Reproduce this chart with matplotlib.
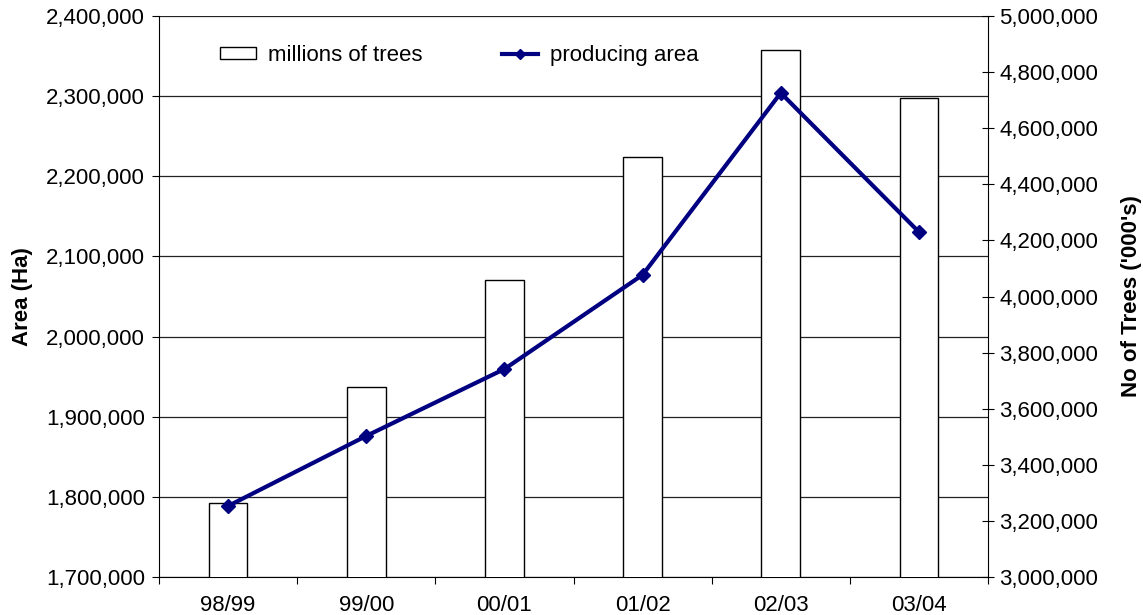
import matplotlib
matplotlib.use("Agg")
import matplotlib.pyplot as plt
from matplotlib.ticker import FuncFormatter, MultipleLocator, FixedLocator
from matplotlib.lines import Line2D
from matplotlib.patches import Patch

plt.rcParams['font.family'] = ['Liberation Sans', 'DejaVu Sans']

categories = ["98/99", "99/00", "00/01", "01/02", "02/03", "03/04"]
producing_area = [1788600, 1876000, 1959500, 2077000, 2304000, 2130500]
trees = [3264000, 3677000, 4059000, 4497000, 4879000, 4708000]

W, H = 1143, 615
FS = 16
fig = plt.figure(figsize=(W/100, H/100), dpi=100)
fig.subplots_adjust(left=159/W, right=988/W, top=1-16/H, bottom=1-577/H)

ax = fig.add_subplot(111)
x = list(range(len(categories)))
fmt = FuncFormatter(lambda v, p: f"{int(v):,}")

# left axis (area) with grid
ax.set_xlim(-0.5, len(categories) - 0.5)
ax.set_ylim(1700000, 2400000)
ax.yaxis.set_major_locator(MultipleLocator(100000))
ax.yaxis.set_major_formatter(fmt)
ax.grid(axis='y', color='#222222', linewidth=0.9)
ax.set_axisbelow(True)
ax.set_xticks(x)
ax.set_xticklabels(categories)
ax.xaxis.set_minor_locator(FixedLocator([i - 0.5 for i in range(len(categories) + 1)]))
ax.tick_params(axis='x', which='major', length=0, labelsize=FS, pad=13)
ax.tick_params(axis='x', which='minor', length=5, direction='out', width=0.8)
ax.tick_params(axis='y', length=5, direction='out', labelsize=FS, width=0.8, pad=5)
ax.set_ylabel("Area (Ha)", fontsize=FS, fontweight='bold')
ax.yaxis.set_label_coords(-0.152, 0.5)
for s in ['top', 'right']:
    ax.spines[s].set_visible(False)

# right axis (trees) bars
ax2 = ax.twinx()
ax2.set_ylim(3000000, 5000000)
ax2.bar(x, trees, width=0.28, color='white', edgecolor='black', linewidth=1.0, zorder=2)
ax2.yaxis.set_major_locator(MultipleLocator(200000))
ax2.yaxis.set_major_formatter(fmt)
ax2.tick_params(axis='y', length=8, direction='inout', labelsize=FS, width=0.8, pad=4)
ax2.set_ylabel("No of Trees ('000's)", fontsize=FS, fontweight='bold')
ax2.yaxis.set_label_coords(1.161, 0.5)
for s in ['top', 'left', 'bottom']:
    ax2.spines[s].set_visible(False)

# line on top, on the area scale
ax3 = ax.twinx()
ax3.set_ylim(ax.get_ylim())
ax3.set_xlim(ax.get_xlim())
ax3.plot(x, producing_area, color='#000080', linewidth=3, marker='D', markersize=7, zorder=3)
ax3.set_yticks([])
for s in ax3.spines.values():
    s.set_visible(False)

handles = [Patch(facecolor='white', edgecolor='black', linewidth=1.0),
           Line2D([0], [0], color='#000080', linewidth=3, marker='D', markersize=5)]
ax3.legend(handles, ["millions of trees", "producing area"], ncol=2, frameon=False,
           loc='upper left', bbox_to_anchor=(0.0494, 0.984), fontsize=FS,
           handlelength=1.6, handleheight=0.45, handletextpad=0.55, columnspacing=3.6)

fig.savefig("out.png", dpi=100)
